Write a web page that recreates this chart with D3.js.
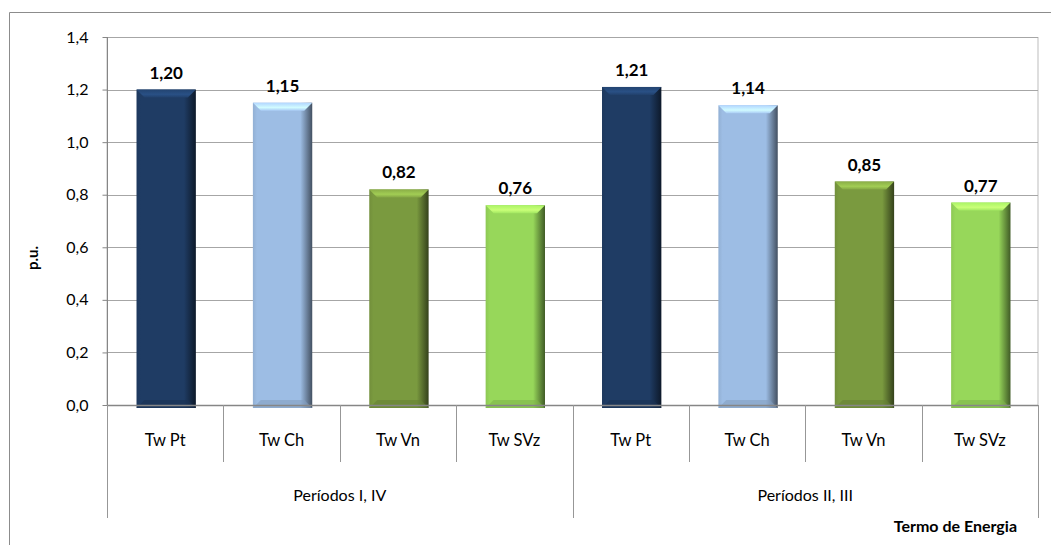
<!DOCTYPE html>
<html>
<head>
<meta charset="utf-8">
<script src="https://cdn.jsdelivr.net/npm/d3@7"></script>
<style>
  html, body { margin: 0; padding: 0; background: #fff; }
  svg { display: block; font-family: Lato, "Open Sans", sans-serif; }
</style>
</head>
<body>
<svg id="chart" width="1051" height="545"></svg>
<script>
// Energy term ratios (p.u.) per tariff component, grouped by period
const groups = ["Períodos I, IV", "Períodos II, III"];
const categories = ["Tw Pt", "Tw Ch", "Tw Vn", "Tw SVz"];
const valuesPeriodsI_IV = [1.20, 1.15, 0.82, 0.76];
const valuesPeriodsII_III = [1.21, 1.14, 0.85, 0.77];
const yTicks = [0, 0.2, 0.4, 0.6, 0.8, 1.0, 1.2, 1.4];
const colors = ["#1f3c64", "#9dbde4", "#7a9a3f", "#97d75a"];

const rows = [];
groups.forEach((g, gi) => {
  const vals = gi === 0 ? valuesPeriodsI_IV : valuesPeriodsII_III;
  categories.forEach((c, ci) => rows.push({ key: gi + "-" + ci, group: g, gi, cat: c, ci, value: vals[ci] }));
});

const svg = d3.select("#chart");
const plot = { left: 107, right: 1038, top: 37, bottom: 405 };

const x = d3.scaleBand().domain(rows.map(d => d.key)).range([plot.left, plot.right]).paddingInner(0).paddingOuter(0);
const y = d3.scaleLinear().domain([0, 1.4]).range([plot.bottom, plot.top]);
const fmt = d3.formatLocale({ decimal: ",", thousands: ".", grouping: [3], currency: ["", ""] });
const f1 = fmt.format(".1f"), f2 = fmt.format(".2f");

// outer chart frame
svg.append("path").attr("d", "M9.5,545 V12.5 H1051").attr("fill", "none").attr("stroke", "#8c8c8c").attr("stroke-width", 1);

// gradients for bevelled bars
const defs = svg.append("defs");
colors.forEach((c, i) => {
  const base = d3.color(c);
  const g = defs.append("linearGradient").attr("id", "side" + i).attr("x1", 0).attr("x2", 1).attr("y1", 0).attr("y2", 0);
  g.append("stop").attr("offset", "0%").attr("stop-color", base.darker(0.2));
  g.append("stop").attr("offset", "7%").attr("stop-color", base);
  g.append("stop").attr("offset", "80%").attr("stop-color", base);
  g.append("stop").attr("offset", "100%").attr("stop-color", base.darker(2.4));
  const t = defs.append("linearGradient").attr("id", "top" + i).attr("x1", 0).attr("x2", 0).attr("y1", 0).attr("y2", 1);
  t.append("stop").attr("offset", "0%").attr("stop-color", base.brighter(0.35));
  t.append("stop").attr("offset", "60%").attr("stop-color", base.brighter(0.8));
  t.append("stop").attr("offset", "100%").attr("stop-color", base.brighter(0.2));
});

// plot area border
svg.append("rect").attr("x", plot.left).attr("y", plot.top + 0.5).attr("width", plot.right - plot.left).attr("height", plot.bottom - plot.top)
  .attr("fill", "none").attr("stroke", "#bdbdbd").attr("stroke-width", 1);

// gridlines
svg.append("g").selectAll("line").data(yTicks.slice(1)).join("line")
  .attr("x1", plot.left).attr("x2", plot.right)
  .attr("y1", d => Math.round(y(d)) + 0.5).attr("y2", d => Math.round(y(d)) + 0.5)
  .attr("stroke", "#a6a6a6").attr("stroke-width", 1);

// y axis
const yAxis = svg.append("g").attr("transform", `translate(${plot.left + 0.5},0)`)
  .call(d3.axisLeft(y).tickValues(yTicks).tickFormat(f1).tickSize(5).tickPadding(14));
yAxis.select(".domain").attr("stroke", "#868686").attr("d", `M0,${plot.top}V${plot.bottom}`);
yAxis.selectAll(".tick line").attr("stroke", "#868686");
yAxis.selectAll(".tick text").attr("font-size", 16).attr("fill", "#000").attr("font-family", "Lato, sans-serif");

// bars
const bw = x.bandwidth() * 0.51;
const bars = svg.append("g").selectAll("g").data(rows).join("g")
  .attr("transform", d => `translate(${x(d.key) + (x.bandwidth() - bw) / 2 + 1},0)`);
bars.append("rect").attr("x", 0).attr("y", d => y(d.value)).attr("width", bw)
  .attr("height", d => y(0) - y(d.value) + 3).attr("fill", d => `url(#side${d.ci})`);
const bev = 8;
bars.append("path")
  .attr("d", d => { const t = y(d.value); return `M0,${t}H${bw}L${bw - bev},${t + bev}H${bev}Z`; })
  .attr("fill", d => `url(#top${d.ci})`);
bars.append("path")
  .attr("d", d => { const b = y(0) + 3; return `M0,${b}H${bw}L${bw - bev},${b - bev}H${bev}Z`; })
  .attr("fill", d => d3.color(colors[d.ci]).darker(0.5)).attr("opacity", 0.6);

// value labels
bars.append("text").attr("x", bw / 2).attr("y", d => y(d.value) - 11)
  .attr("text-anchor", "middle").attr("font-size", 17).attr("font-weight", "bold").attr("fill", "#000")
  .text(d => f2(d.value));

// x axis line
svg.append("line").attr("x1", plot.left).attr("x2", plot.right).attr("y1", plot.bottom + 0.5).attr("y2", plot.bottom + 0.5)
  .attr("stroke", "#868686").attr("stroke-width", 1.5);

// category dividers (inner level) and group dividers (outer level)
const inner = d3.range(1, rows.length).filter(i => i % categories.length !== 0);
svg.append("g").selectAll("line").data(inner).join("line")
  .attr("x1", i => Math.round(x(rows[i].key)) + 0.5).attr("x2", i => Math.round(x(rows[i].key)) + 0.5)
  .attr("y1", plot.bottom).attr("y2", 462).attr("stroke", "#979797");
const outerX = [plot.left, x(rows[categories.length].key), plot.right];
svg.append("g").selectAll("line").data(outerX).join("line")
  .attr("x1", d => Math.round(d) + 0.5).attr("x2", d => Math.round(d) + 0.5)
  .attr("y1", plot.bottom).attr("y2", 518).attr("stroke", "#979797");

// category labels
svg.append("g").selectAll("text").data(rows).join("text")
  .attr("x", d => x(d.key) + x.bandwidth() / 2).attr("y", 446)
  .attr("text-anchor", "middle").attr("font-size", 16.5).attr("fill", "#000").text(d => d.cat);

// group labels
svg.append("g").selectAll("text").data(groups).join("text")
  .attr("x", (g, gi) => (outerX[gi] + outerX[gi + 1]) / 2).attr("y", 501)
  .attr("text-anchor", "middle").attr("font-size", 16).attr("fill", "#000").text(g => g);

// axis titles
svg.append("text").attr("transform", "translate(38,258) rotate(-90)")
  .attr("text-anchor", "middle").attr("font-size", 15).attr("font-weight", "bold").text("p.u.");
svg.append("text").attr("x", 1017).attr("y", 532).attr("text-anchor", "end")
  .attr("font-size", 16).attr("font-weight", "bold").text("Termo de Energia");
</script>
</body>
</html>
